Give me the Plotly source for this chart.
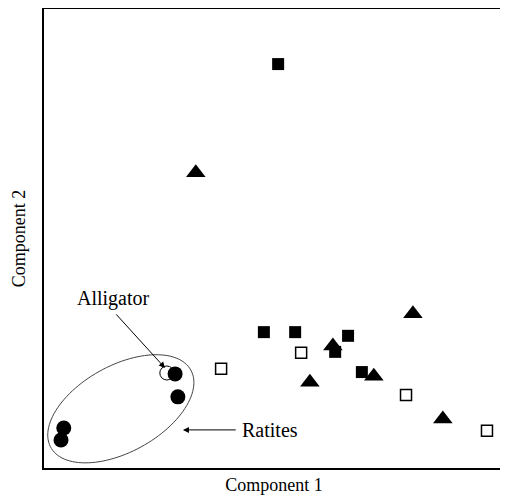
import numpy as np
import plotly.graph_objects as go

# Data (component scores, arbitrary units)
fsq_x = [5.09, 4.78, 5.46, 6.61, 6.91, 6.33]
fsq_y = [8.80, 2.96, 2.96, 2.88, 2.09, 2.53]
tri_x = [3.30, 8.02, 6.28, 5.78, 7.17, 8.67]
tri_y = [6.43, 3.36, 2.66, 1.87, 2.00, 1.07]
osq_x = [3.85, 5.59, 7.87, 9.63]
osq_y = [2.16, 2.51, 1.59, 0.81]
fci_x = [2.85, 2.91, 0.43, 0.37]
fci_y = [2.05, 1.55, 0.87, 0.61]
oci_x = [2.67]
oci_y = [2.07]

fig = go.Figure()
fig.add_trace(go.Scatter(x=fsq_x, y=fsq_y, mode="markers",
                         marker=dict(symbol="square", size=12, color="black")))
fig.add_trace(go.Scatter(x=tri_x, y=tri_y, mode="markers",
                         marker=dict(symbol="triangle-up", size=17, color="black")))
fig.add_trace(go.Scatter(x=osq_x, y=osq_y, mode="markers",
                         marker=dict(symbol="square-open", size=11, color="black",
                                     line=dict(width=1.5))))
fig.add_trace(go.Scatter(x=oci_x, y=oci_y, mode="markers",
                         marker=dict(symbol="circle", size=14, color="white",
                                     line=dict(color="black", width=1))))
fig.add_trace(go.Scatter(x=fci_x, y=fci_y, mode="markers",
                         marker=dict(symbol="circle", size=15, color="black")))

# Ellipse around ratites
cx, cy, a, b, ang = 1.67, 1.29, 1.74, 0.94, np.deg2rad(29)
t = np.linspace(0, 2 * np.pi, 120)
ex = cx + a * np.cos(t) * np.cos(ang) - b * np.sin(t) * np.sin(ang)
ey = cy + a * np.cos(t) * np.sin(ang) + b * np.sin(t) * np.cos(ang)
path = "M " + " L ".join(f"{x:.4f},{y:.4f}" for x, y in zip(ex, ey)) + " Z"
fig.add_shape(type="path", path=path, xref="x", yref="y",
              line=dict(color="#444", width=1))

font_serif = "Liberation Serif, Times New Roman, serif"
fig.add_annotation(x=1.52, y=3.70, text="Alligator", showarrow=False,
                   font=dict(family=font_serif, size=20, color="black"))
fig.add_annotation(x=2.63, y=2.18, ax=1.54, ay=3.38, axref="x", ayref="y",
                   text="", showarrow=True, arrowhead=2, arrowsize=1.2,
                   arrowwidth=1, arrowcolor="black")
fig.add_annotation(x=4.91, y=0.83, text="Ratites", showarrow=False,
                   font=dict(family=font_serif, size=20, color="black"))
fig.add_annotation(x=3.02, y=0.83, ax=4.2, ay=0.83, axref="x", ayref="y",
                   text="", showarrow=True, arrowhead=2, arrowsize=1.2,
                   arrowwidth=1, arrowcolor="black")

axis_common = dict(showgrid=False, zeroline=False, showticklabels=False, ticks="",
                   showline=True, linecolor="black", linewidth=2, mirror=True,
                   automargin=False)
fig.update_xaxes(range=[0, 10], title=dict(text="Component 1", standoff=9,
                 font=dict(family=font_serif, size=18, color="black")), **axis_common)
fig.update_yaxes(range=[0, 10], title=dict(text="Component 2", standoff=12,
                 font=dict(family=font_serif, size=18, color="black")), **axis_common)

# page body has an 8px default margin, so the figure is sized to fit
fig.update_layout(width=500, height=492, showlegend=False,
                  margin=dict(l=36, r=4, t=1, b=32, autoexpand=False),
                  plot_bgcolor="white", paper_bgcolor="white")

fig.write_html("out.html")
